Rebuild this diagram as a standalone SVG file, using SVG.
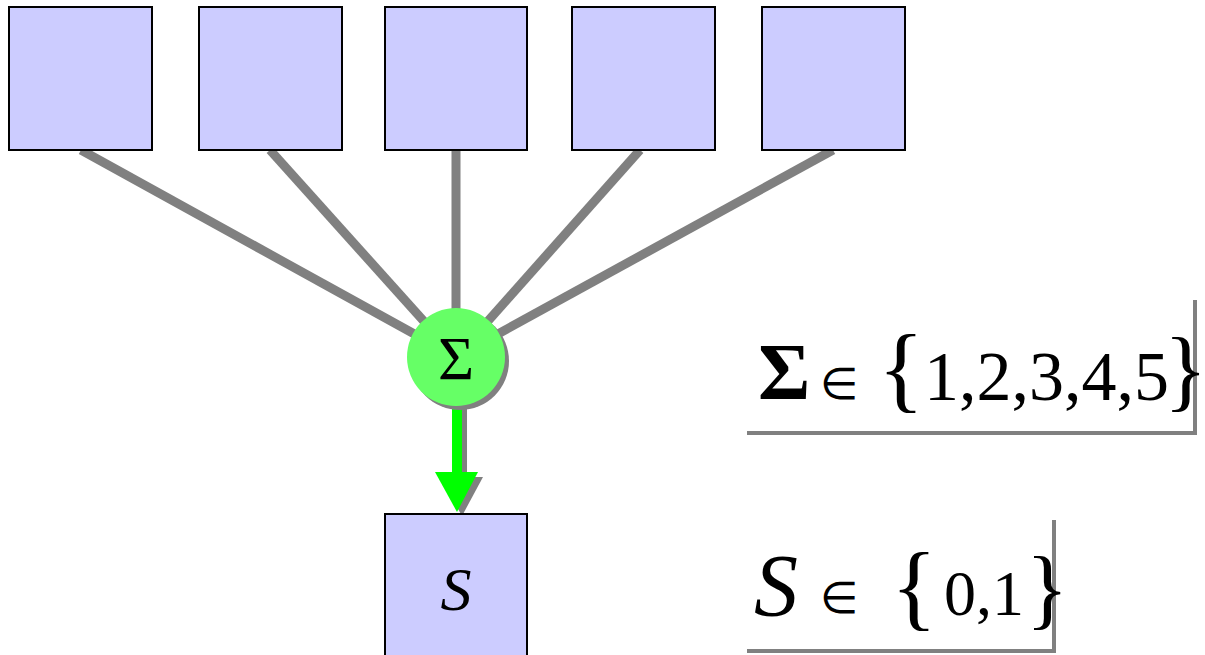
<svg xmlns="http://www.w3.org/2000/svg" width="1205" height="655" viewBox="0 0 1205 655">
<style>
.box{fill:#ccccff;stroke:#000;stroke-width:2}
.edge{stroke:#808080;stroke-width:9;fill:none}
.t{font-family:'Liberation Serif','Times New Roman',Times,serif;fill:#000}
.frame{stroke:#808080;stroke-width:4;fill:none}
</style>
<rect width="1205" height="655" fill="#fff"/>
<g id="connectors">
<line class="edge" x1="81" y1="150" x2="456" y2="357"/>
<line class="edge" x1="270" y1="150" x2="456" y2="357"/>
<line class="edge" x1="456" y1="150" x2="456" y2="357"/>
<line class="edge" x1="640" y1="150" x2="456" y2="357"/>
<line class="edge" x1="833" y1="150" x2="456" y2="357"/>
<g id="arrow">
<line x1="462" y1="405" x2="462" y2="478" stroke="#808080" stroke-width="10"/>
<polygon points="440,477 483,477 462,516" fill="#808080"/>
<line x1="457" y1="400" x2="457" y2="474" stroke="#00ff00" stroke-width="10"/>
<polygon points="435,472 478,472 457,512" fill="#00ff00"/>
</g>
</g>
<g id="n1"><rect class="box" x="9" y="7" width="143" height="143"/></g>
<g id="n2"><rect class="box" x="199" y="7" width="143" height="143"/></g>
<g id="n3"><rect class="box" x="385" y="7" width="142" height="143"/></g>
<g id="n4"><rect class="box" x="572" y="7" width="143" height="143"/></g>
<g id="n5"><rect class="box" x="762" y="7" width="143" height="143"/></g>
<g id="sum">
<circle cx="460" cy="361" r="49" fill="#808080"/>
<circle cx="456" cy="357" r="49" fill="#66ff66"/>
<text class="t" x="456" y="379" font-size="62" text-anchor="middle">Σ</text>
</g>
<g id="s">
<rect class="box" x="385" y="514" width="142" height="145"/>
<text class="t" x="456" y="610" font-size="62" font-style="italic" text-anchor="middle">S</text>
</g>
<g id="label1">
<polyline class="frame" points="747,433 1195,433 1195,300"/>
<text class="t" y="399"><tspan x="758" font-size="80" font-weight="bold">Σ</tspan><tspan x="820" font-size="44">∈</tspan><tspan x="878" y="400" font-size="96">{</tspan><tspan x="924" font-size="70">1,2,3,4,5</tspan><tspan x="1164" font-size="90">}</tspan></text>
</g>
<g id="label2">
<polyline class="frame" points="747,651 1054,651 1054,520"/>
<text class="t" y="615"><tspan x="754" font-size="88" font-style="italic">S</tspan><tspan x="820" font-size="44" y="613">∈</tspan><tspan x="891" y="618" font-size="96">{</tspan><tspan x="944" y="615" font-size="64">0,1</tspan><tspan x="1026" y="618" font-size="88">}</tspan></text>
</g>
</svg>
